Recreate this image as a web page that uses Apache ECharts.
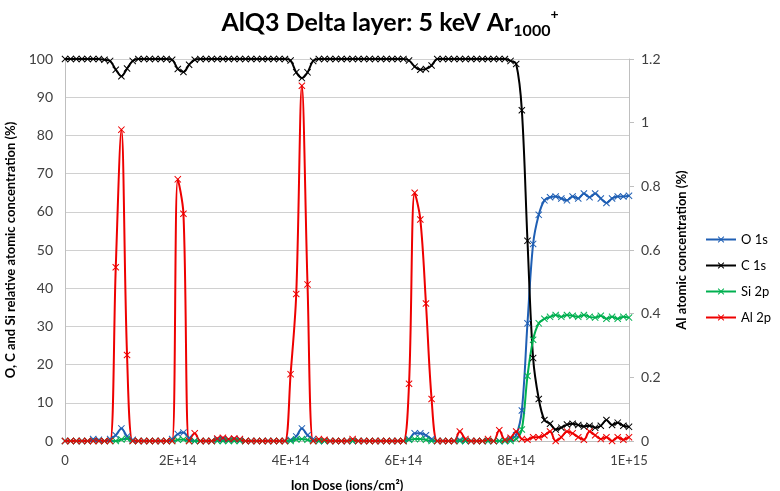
<!DOCTYPE html>
<html>
<head>
<meta charset="utf-8">
<script src="https://cdn.jsdelivr.net/npm/echarts@6/dist/echarts.min.js"></script>
<style>
  html, body { margin: 0; padding: 0; background: #fff; }
  #main { width: 780px; height: 491px; }
</style>
</head>
<body>
<div id="main"></div>
<script>
// 剂量步长 (ions/cm2)，每个测量点一个
var doseStep = 1e13;

// O 1s (%)
var o1s = [
  0, 0, 0, 0, 0, 0.5, 0.3, 0, 0.5, 1.5,
  3.3, 1.2, 0.3, 0, 0, 0, 0, 0, 0, 0.5,
  1.8, 2.2, 0.8, 0, 0, 0, 0, 0.4, 0.5, 0.3,
  0.5, 0.3, 0, 0, 0, 0, 0, 0, 0, 0,
  0.3, 1.2, 3.3, 1.5, 0.5, 0, 0, 0, 0, 0,
  0, 0, 0, 0, 0, 0, 0, 0, 0, 0,
  0, 0.5, 2, 2, 1.5, 0.5, 0, 0, 0, 0,
  0.3, 0, 0, 0, 0, 0, 0, 0, 0, 0.5,
  1.5, 8, 30.8, 51.6, 59.2, 63, 63.8, 64, 63.5, 63,
  64, 63.5, 64.8, 63.8, 64.8, 63.5, 62.3, 63.5, 64, 64,
  64.2
];

// C 1s (%)
var c1s = [
  100, 100, 100, 100, 100, 100, 100, 99.8, 99.5, 97.2,
  95.5, 97.5, 99.5, 100, 100, 100, 100, 100, 100, 99.8,
  97.4, 96.6, 98.5, 99.8, 100, 100, 100, 100, 100, 100,
  100, 100, 100, 100, 100, 100, 100, 100, 100, 100,
  99.6, 96.5, 95, 96.5, 99.5, 100, 100, 100, 100, 100,
  100, 100, 100, 100, 100, 100, 100, 100, 100, 100,
  100, 99.6, 98, 97.2, 97.4, 98.3, 100, 100, 100, 100,
  100, 100, 100, 100, 100, 100, 100, 100, 100, 99.5,
  98.7, 86.6, 52.4, 21.7, 11, 5.5, 4.5, 3, 3.5, 4.3,
  4.5, 4.2, 3.8, 4, 3.5, 4, 5.5, 4.2, 4.8, 4,
  3.7
];

// Si 2p (%)
var si2p = [
  0, 0, 0, 0, 0, 0, 0, 0, 0, 0,
  0.4, 0.6, 0, 0, 0, 0, 0, 0, 0, 0,
  0.3, 0.4, 0, 0, 0, 0, 0, 0, 0, 0,
  0, 0, 0, 0, 0, 0, 0, 0, 0, 0,
  0, 0.4, 0.5, 0.3, 0, 0, 0, 0, 0, 0,
  0, 0, 0, 0, 0, 0, 0, 0, 0, 0,
  0, 0.3, 0.5, 0.5, 0.3, 0, 0, 0, 0, 0,
  0, 0, 0, 0, 0, 0, 0, 0, 0, 0,
  0.5, 3, 17, 26.5, 30.8, 32, 32.5, 33, 32.5, 33,
  32.8, 32.5, 33, 32.5, 32.3, 32.8, 32, 32.5, 32, 32.5,
  32.3
];

// Al 2p (%)，右轴
var al2p = [
  0, 0, 0, 0, 0, 0, 0, 0, 0, 0.546,
  0.978, 0.27, 0, 0, 0, 0, 0, 0, 0, 0,
  0.822, 0.714, 0, 0.024, 0, 0, 0, 0.008, 0.01, 0.006,
  0.008, 0.006, 0, 0, 0, 0, 0, 0, 0, 0,
  0.21, 0.462, 1.116, 0.492, 0, 0.006, 0.004, 0, 0, 0,
  0, 0.006, 0, 0, 0, 0, 0, 0, 0, 0,
  0, 0.18, 0.78, 0.696, 0.432, 0.132, 0, 0, 0, 0,
  0.03, 0.006, 0, 0, 0, 0.006, 0, 0.034, 0.004, 0.01,
  0.03, 0.006, 0.004, 0.012, 0.012, 0.018, 0.03, 0, 0.012, 0.03,
  0.024, 0.012, 0.004, 0.03, 0.018, 0.006, 0.012, 0, 0.012, 0.004,
  0.012
];

// 刻度
var leftTicks = { min: 0, max: 100, interval: 10 };
var rightTicks = { min: 0, max: 1.2, interval: 0.2 };
var xTicks = { min: 0, max: 1e15, interval: 2e14 };

function pairs(arr) {
  return arr.map(function (v, i) { return [i * doseStep, v]; });
}

var crossPath = 'path://M0,1L1,0L5,4L9,0L10,1L6,5L10,9L9,10L5,6L1,10L0,9L4,5Z';
var font = 'Lato, "Open Sans", sans-serif';

function mkSeries(name, data, color, yIdx) {
  return {
    name: name,
    type: 'line',
    yAxisIndex: yIdx,
    data: pairs(data),
    smooth: 0.35,
    symbol: crossPath,
    symbolSize: 7,
    showSymbol: true,
    lineStyle: { color: color, width: 2 },
    itemStyle: { color: color },
    emphasis: { disabled: true },
    animation: false
  };
}

var myChart = echarts.init(document.getElementById('main'));

var option = {
  backgroundColor: '#fff',
  animation: false,
  title: {
    text: '{a|AlQ3 Delta layer: 5 keV Ar}{sub|1000}{sup|+}',
    left: 'center',
    top: 2,
    textStyle: {
      rich: {
        a: { fontFamily: font, fontSize: 25, fontWeight: 'bold', color: '#000', lineHeight: 32, verticalAlign: 'middle' },
        sub: { fontFamily: font, fontSize: 16, fontWeight: 'bold', color: '#000', lineHeight: 32, verticalAlign: 'bottom' },
        sup: { fontFamily: font, fontSize: 14, fontWeight: 'bold', color: '#000', lineHeight: 32, verticalAlign: 'top' }
      }
    }
  },
  legend: {
    orient: 'vertical',
    left: 700,
    top: 228,
    itemGap: 13,
    itemWidth: 30,
    itemHeight: 8,
    textStyle: { fontFamily: font, fontSize: 13, color: '#000' },
    data: ['O 1s', 'C 1s', 'Si 2p', 'Al 2p']
  },
  grid: { left: 65, right: 151, top: 59, bottom: 50, outerBoundsMode: 'none' },
  xAxis: {
    type: 'value',
    min: xTicks.min,
    max: xTicks.max,
    interval: xTicks.interval,
    name: 'Ion Dose (ions/cm²)',
    nameLocation: 'middle',
    nameGap: 38,
    nameTextStyle: { fontFamily: font, fontSize: 13, fontWeight: 'bold', color: '#000' },
    axisLine: { lineStyle: { color: '#bfbfbf' } },
    axisTick: { show: false },
    splitLine: { show: false },
    axisLabel: {
      fontFamily: font, fontSize: 13, color: '#404040', margin: 13,
      formatter: function (v) { return v === 0 ? '0' : v.toExponential(0).toUpperCase(); }
    }
  },
  yAxis: [{
    type: 'value',
    min: leftTicks.min,
    max: leftTicks.max,
    interval: leftTicks.interval,
    name: 'O, C and Si relative atomic concentration (%)',
    nameLocation: 'middle',
    nameGap: 36,
    nameRotate: 90,
    nameTextStyle: { fontFamily: font, fontSize: 13, fontWeight: 'bold', color: '#000' },
    axisLine: { show: true, lineStyle: { color: '#bfbfbf' } },
    axisTick: { show: false },
    splitLine: { lineStyle: { color: '#d0d0d0' } },
    axisLabel: { fontFamily: font, fontSize: 14, color: '#404040', margin: 12 }
  }, {
    type: 'value',
    position: 'right',
    min: rightTicks.min,
    max: rightTicks.max,
    interval: rightTicks.interval,
    name: 'Al atomic concentration (%)',
    nameLocation: 'middle',
    nameGap: 46,
    nameRotate: 90,
    nameTextStyle: { fontFamily: font, fontSize: 13, fontWeight: 'bold', color: '#000' },
    axisLine: { show: true, lineStyle: { color: '#bfbfbf' } },
    axisTick: { show: true, length: 5, lineStyle: { color: '#bfbfbf' } },
    splitLine: { show: false },
    axisLabel: { fontFamily: font, fontSize: 14, color: '#404040', margin: 12 }
  }],
  series: [
    mkSeries('O 1s', o1s, '#1f5fb4', 0),
    mkSeries('C 1s', c1s, '#000000', 0),
    mkSeries('Si 2p', si2p, '#00b050', 0),
    mkSeries('Al 2p', al2p, '#ee0000', 1)
  ]
};

myChart.setOption(option);
</script>
</body>
</html>
